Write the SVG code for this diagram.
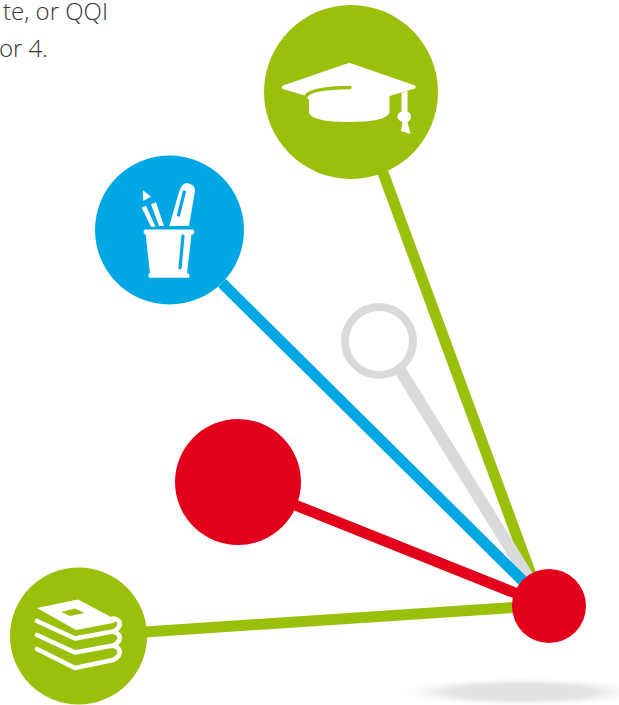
<svg xmlns="http://www.w3.org/2000/svg" width="619" height="705" viewBox="0 0 619 705">
<style>
.t{font-family:"Open Sans","Noto Sans",sans-serif;font-size:24px;font-weight:300;fill:#333}
.c{fill:none;stroke-width:11}
.w{fill:#fff}
.ws{fill:none;stroke:#fff;stroke-linecap:round;stroke-linejoin:round}
</style>
<defs>
<radialGradient id="sh"><stop offset="0" stop-color="#dfe1e1"/><stop offset=".6" stop-color="#e3e5e5"/><stop offset="1" stop-color="#f4f5f5" stop-opacity=".1"/></radialGradient>
</defs>
<rect width="619" height="705" fill="#fff"/>
<ellipse id="shadow" cx="522" cy="692" rx="120" ry="14" fill="url(#sh)"/>
<text class="t" x="108" y="20" text-anchor="end">te, or QQI</text>
<text class="t" x="48" y="57" text-anchor="end">or 4.</text>
<g id="connectors">
<line class="c" x1="382" y1="170" x2="533" y2="580" stroke="#9ac00c"/>
<line x1="400" y1="370" x2="533" y2="585" stroke="#d9dadb" stroke-width="12"/>
<line class="c" x1="222" y1="283" x2="528" y2="586" stroke="#00a7e2"/>
<line class="c" x1="295" y1="505" x2="525" y2="597" stroke="#e2001a"/>
<line class="c" x1="145" y1="632" x2="520" y2="607" stroke="#9ac00c"/>
</g>
<g id="node-hat">
<circle cx="351" cy="92" r="87" fill="#9ac00c"/>
<path class="w" d="M349.300 62.700L415 85.500Q416.500 87.500 415 88.500L389.500 96V113Q385 122 349 122Q313 122 309 113V100L305.700 95.700L283 89Q280.500 87.500 283 85.500Z"/>
<path d="M306.500 95.500Q312 88 350 87.500" fill="none" stroke="#9ac00c" stroke-width="3.400" stroke-linecap="round"/>
<path class="w" d="M401.500 93L407.500 91V111.500Q411 113 411 116.500Q411 120 407.500 122L410.500 134L401 131L402.500 122Q397.500 120 397.500 116.500Q397.500 113 401.500 111.500Z"/>
</g>
<g id="node-pencils">
<circle cx="169.500" cy="230" r="74.500" fill="#00a7e2"/>
<path class="w" d="M142.700 190L151 196.700L143.300 201ZM141.700 207.700L146 205.700L155.500 226.700H151ZM151 204.300L156 202.300L164 226H159ZM169.300 226L179 192Q182 183 187 183Q195 184 195 191L189 226ZM145 229.500H193Q196 232 193 234.500H191.500L187 273.500H189Q190 276 189 277.700H149Q148 276 149 273.500H150L145.700 234.500H145Q142 232 145 229.500Z"/>
<path d="M184.300 192L178.500 215M183 236L180 268" fill="none" stroke="#00a7e2" stroke-width="3.200" stroke-linecap="round"/>
</g>
<g id="node-ring">
<circle cx="379" cy="341" r="34" fill="#fff" stroke="#d9dadb" stroke-width="8"/>
</g>
<g id="node-red">
<circle cx="238" cy="482" r="63" fill="#e2001a"/>
</g>
<g id="node-books">
<circle cx="78.500" cy="636" r="68.500" fill="#9ac00c"/>
<path class="w" d="M37 608L78 599.500L114 618.500Q118 621 113 623L76 630Z"/>
<path d="M61 612L75 608.500L84.500 613L70 616Z" fill="#9ac00c"/>
<path class="ws" stroke-width="4.600" d="M37 621L75 638.500L113 631.500Q121 628 119.500 622Q118 619 113 618.500M37 635L75 652.500L113 645.500Q121 642 119.500 636Q118 633 114 632M37 649L75 668L113 660Q121 656 119.500 650Q118 647 114 646"/>
</g>
<g id="node-hub">
<circle cx="549" cy="606" r="37" fill="#e2001a"/>
</g>
</svg>
